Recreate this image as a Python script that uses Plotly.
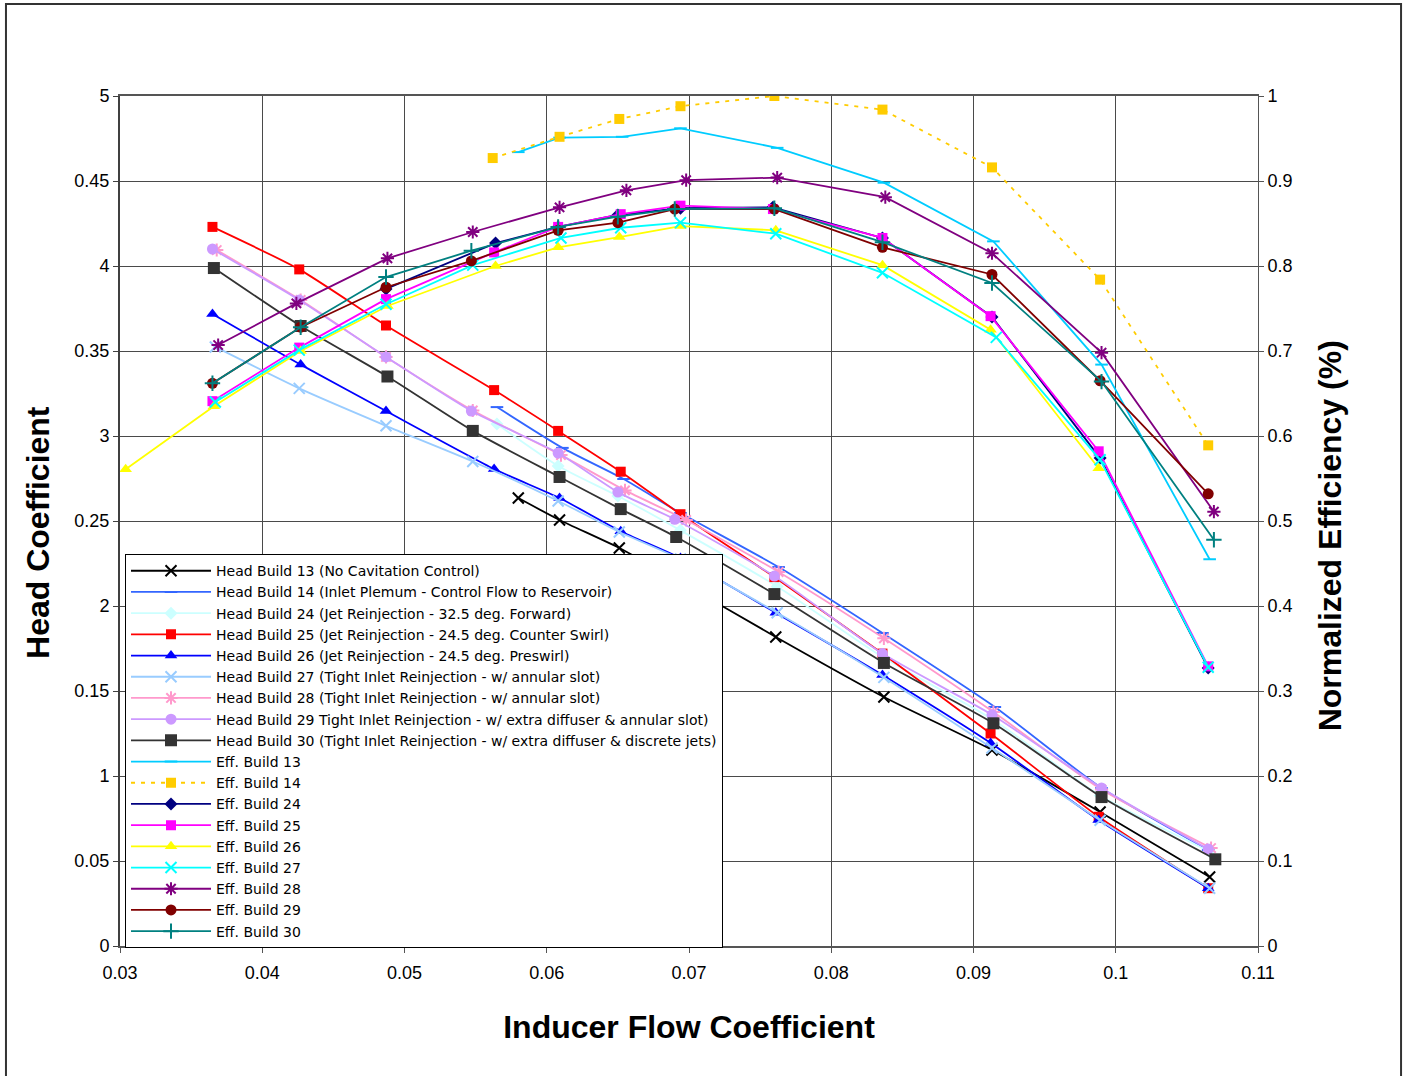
import plotly.graph_objects as go

# ---------------- data ----------------
head13_x = [0.0580, 0.0609, 0.0651, 0.0694, 0.0761, 0.0837, 0.0913, 0.0989, 0.1066]
head13_y = [0.2635, 0.2506, 0.2341, 0.2141, 0.1818, 0.1465, 0.1153, 0.0788, 0.0406]

head14_x = [0.0565, 0.0611, 0.0654, 0.0694, 0.0763, 0.0836, 0.0915, 0.0990, 0.1065]
head14_y = [0.317, 0.293, 0.2747, 0.2547, 0.2229, 0.1841, 0.1406, 0.0929, 0.0565]

head24_x = [0.0565, 0.0608, 0.0650, 0.0694, 0.0762, 0.0837, 0.0913, 0.0989, 0.1066]
head24_y = [0.307, 0.2824, 0.2647, 0.2445, 0.2115, 0.1695, 0.1335, 0.0885, 0.0555]

head25_x = [0.0365, 0.0426, 0.0487, 0.0563, 0.0608, 0.0652, 0.0694, 0.0760, 0.0836, 0.0912, 0.0988, 0.1065]
head25_y = [0.423, 0.398, 0.365, 0.327, 0.303, 0.279, 0.254, 0.217, 0.172, 0.125, 0.076, 0.034]

head26_x = [0.0365, 0.0427, 0.0487, 0.0563, 0.0609, 0.0652, 0.0694, 0.0761, 0.0836, 0.0912, 0.0988, 0.1065]
head26_y = [0.3718, 0.342, 0.3147, 0.2806, 0.2635, 0.244, 0.2282, 0.196, 0.1594, 0.1194, 0.0741, 0.034]

head27_x = [0.0367, 0.0426, 0.0487, 0.0548, 0.0608, 0.0651, 0.0694, 0.0762, 0.0837, 0.0913, 0.0989, 0.1066]
head27_y = [0.3524, 0.328, 0.306, 0.285, 0.2618, 0.2435, 0.2276, 0.196, 0.158, 0.1165, 0.074, 0.034]

head28_x = [0.0368, 0.0427, 0.0487, 0.0548, 0.0610, 0.0655, 0.0698, 0.0763, 0.0837, 0.0914, 0.0990, 0.1067]
head28_y = [0.4094, 0.380, 0.3465, 0.315, 0.2888, 0.268, 0.2506, 0.220, 0.181, 0.1376, 0.092, 0.0576]

head29_x = [0.0365, 0.0426, 0.0487, 0.0547, 0.0608, 0.0650, 0.0690, 0.0760, 0.0836, 0.0913, 0.0990, 0.1065]
head29_y = [0.410, 0.380, 0.3465, 0.3147, 0.290, 0.267, 0.251, 0.2176, 0.172, 0.136, 0.093, 0.057]

head30_x = [0.0366, 0.0427, 0.0488, 0.0548, 0.0609, 0.0652, 0.0691, 0.0760, 0.0837, 0.0914, 0.0990, 0.1070]
head30_y = [0.3988, 0.3647, 0.335, 0.303, 0.2759, 0.257, 0.2406, 0.207, 0.1665, 0.131, 0.0876, 0.051]

eff13_x = [0.0580, 0.0609, 0.0653, 0.0694, 0.0762, 0.0837, 0.0914, 0.0990, 0.1066]
eff13_y = [0.934, 0.951, 0.952, 0.962, 0.939, 0.898, 0.829, 0.684, 0.455]

eff14_x = [0.0562, 0.0609, 0.0651, 0.0694, 0.0760, 0.0836, 0.0913, 0.0989, 0.1065]
eff14_y = [0.927, 0.952, 0.973, 0.988, 1.000, 0.984, 0.916, 0.784, 0.589]

eff24_x = [0.0487, 0.0564, 0.0608, 0.0650, 0.0694, 0.0759, 0.0836, 0.0913, 0.0989, 0.1065]
eff24_y = [0.773, 0.827, 0.846, 0.860, 0.868, 0.869, 0.833, 0.740, 0.574, 0.327]

eff25_x = [0.0365, 0.0426, 0.0487, 0.0563, 0.0608, 0.0652, 0.0694, 0.0759, 0.0836, 0.0912, 0.0988, 0.1065]
eff25_y = [0.641, 0.704, 0.761, 0.816, 0.846, 0.861, 0.871, 0.867, 0.833, 0.741, 0.582, 0.329]

eff26_x = [0.0304, 0.0366, 0.0427, 0.0488, 0.0564, 0.0608, 0.0651, 0.0694, 0.0761, 0.0836, 0.0912, 0.0988]
eff26_y = [0.561, 0.635, 0.700, 0.753, 0.800, 0.822, 0.834, 0.847, 0.842, 0.801, 0.725, 0.562]

eff27_x = [0.0367, 0.0426, 0.0487, 0.0548, 0.0610, 0.0652, 0.0694, 0.0761, 0.0836, 0.0916, 0.0989, 0.1065]
eff27_y = [0.640, 0.701, 0.755, 0.801, 0.833, 0.845, 0.851, 0.838, 0.792, 0.716, 0.572, 0.328]

eff28_x = [0.0369, 0.0424, 0.0488, 0.0548, 0.0609, 0.0656, 0.0698, 0.0762, 0.0838, 0.0913, 0.0990, 0.1069]
eff28_y = [0.707, 0.756, 0.809, 0.840, 0.869, 0.889, 0.901, 0.904, 0.881, 0.815, 0.698, 0.511]

eff29_x = [0.0365, 0.0427, 0.0487, 0.0547, 0.0608, 0.0650, 0.0690, 0.0760, 0.0836, 0.0913, 0.0989, 0.1065]
eff29_y = [0.662, 0.728, 0.775, 0.806, 0.842, 0.851, 0.867, 0.867, 0.822, 0.790, 0.665, 0.532]

eff30_x = [0.0365, 0.0427, 0.0487, 0.0547, 0.0608, 0.0650, 0.0690, 0.0760, 0.0836, 0.0913, 0.0990, 0.1069]
eff30_y = [0.662, 0.728, 0.787, 0.818, 0.846, 0.858, 0.867, 0.868, 0.828, 0.780, 0.664, 0.478]

names = [
    "Head Build 13 (No Cavitation Control)",
    "Head Build 14 (Inlet Plemum - Control Flow to Reservoir)",
    "Head Build 24 (Jet Reinjection - 32.5 deg. Forward)",
    "Head Build 25 (Jet Reinjection - 24.5 deg. Counter Swirl)",
    "Head Build 26 (Jet Reinjection - 24.5 deg. Preswirl)",
    "Head Build 27 (Tight Inlet Reinjection - w/ annular slot)",
    "Head Build 28 (Tight Inlet Reinjection - w/ annular slot)",
    "Head Build 29 Tight Inlet Reinjection - w/ extra diffuser & annular slot)",
    "Head Build 30 (Tight Inlet Reinjection - w/ extra diffuser & discrete jets)",
    "Eff. Build 13", "Eff. Build 14", "Eff. Build 24", "Eff. Build 25", "Eff. Build 26",
    "Eff. Build 27", "Eff. Build 28", "Eff. Build 29", "Eff. Build 30",
]

x_ticks = [0.03, 0.04, 0.05, 0.06, 0.07, 0.08, 0.09, 0.10, 0.11]
x_ticktext = ["0.03", "0.04", "0.05", "0.06", "0.07", "0.08", "0.09", "0.1", "0.11"]
y_ticks = [0, 0.05, 0.10, 0.15, 0.20, 0.25, 0.30, 0.35, 0.40, 0.45, 0.50]
y_ticktext = ["0", "0.05", "1", "0.15", "2", "0.25", "3", "0.35", "4", "0.45", "5"]
y2_ticks = [0, 0.1, 0.2, 0.3, 0.4, 0.5, 0.6, 0.7, 0.8, 0.9, 1.0]
y2_ticktext = ["0", "0.1", "0.2", "0.3", "0.4", "0.5", "0.6", "0.7", "0.8", "0.9", "1"]

x_title = "Inducer Flow Coefficient"
y_title = "Head Coefficient"
y2_title = "Normalized Efficiency (%)"

# ---------------- styles ----------------
LINE_SYMS = {"x-thin", "asterisk", "cross-thin", "line-ew"}
series = [
    (head13_x, head13_y, "y", "#000000", "x-thin", 11, "solid"),
    (head14_x, head14_y, "y", "#3366FF", "line-ew", 9, "solid"),
    (head24_x, head24_y, "y", "#CCFFFF", "diamond", 10, "solid"),
    (head25_x, head25_y, "y", "#FF0000", "square", 10, "solid"),
    (head26_x, head26_y, "y", "#0000FF", "triangle-up", 11, "solid"),
    (head27_x, head27_y, "y", "#99CCFF", "x-thin", 11, "solid"),
    (head28_x, head28_y, "y", "#FF99CC", "asterisk", 11, "solid"),
    (head29_x, head29_y, "y", "#CC99FF", "circle", 11, "solid"),
    (head30_x, head30_y, "y", "#333333", "square", 12, "solid"),
    (eff13_x, eff13_y, "y2", "#00CCFF", "line-ew", 9, "solid"),
    (eff14_x, eff14_y, "y2", "#FFCC00", "square", 10, "4px,6px"),
    (eff24_x, eff24_y, "y2", "#000080", "diamond", 10, "solid"),
    (eff25_x, eff25_y, "y2", "#FF00FF", "square", 10, "solid"),
    (eff26_x, eff26_y, "y2", "#FFFF00", "triangle-up", 11, "solid"),
    (eff27_x, eff27_y, "y2", "#00FFFF", "x-thin", 11, "solid"),
    (eff28_x, eff28_y, "y2", "#800080", "asterisk", 11, "solid"),
    (eff29_x, eff29_y, "y2", "#800000", "circle", 11, "solid"),
    (eff30_x, eff30_y, "y2", "#008080", "cross-thin", 11, "solid"),
]

FONT = "Liberation Sans, Arial, sans-serif"
fig = go.Figure()
for i, (xs, ys, ax, col, sym, sz, dash) in enumerate(series):
    is_head = ax == "y"
    if sym in LINE_SYMS:
        marker = dict(symbol=sym, size=sz, color=col, line=dict(color=col, width=2))
    else:
        marker = dict(symbol=sym, size=sz, color=col, line=dict(width=0))
    line = dict(color=col, width=1.8, dash=dash)
    if is_head:
        line.update(shape="spline", smoothing=0.6)
    fig.add_trace(go.Scatter(
        x=xs, y=ys, yaxis=ax, name=names[i], mode="lines+markers",
        line=line, marker=marker,
    ))

fig.update_layout(
    width=1406, height=1076,
    margin=dict(l=120, r=148, t=96, b=130),
    paper_bgcolor="white", plot_bgcolor="white",
    font=dict(family=FONT, size=18, color="black"),
    showlegend=True,
    legend=dict(
        x=0.0044, y=0.461, xanchor="left", yanchor="top",
        bgcolor="white", bordercolor="black", borderwidth=1,
        font=dict(family="DejaVu Sans, Liberation Sans, sans-serif", size=14, color="black"),
        traceorder="normal", itemwidth=80,
    ),
    xaxis=dict(
        range=[0.03, 0.11], tickvals=x_ticks, ticktext=x_ticktext,
        showgrid=True, gridcolor="#4a4a4a", gridwidth=1, zeroline=False,
        showline=True, linecolor="#555555", linewidth=2, mirror=True,
        ticks="outside", ticklen=5, tickcolor="#555555", ticklabelstandoff=4,
        tickfont=dict(size=18),
        title=dict(text="<b>" + x_title + "</b>", font=dict(size=32), standoff=34),
    ),
    yaxis=dict(
        range=[0, 0.5], tickvals=y_ticks, ticktext=y_ticktext,
        showgrid=True, gridcolor="#4a4a4a", gridwidth=1, zeroline=False,
        showline=True, linecolor="#404040", linewidth=2,
        ticks="outside", ticklen=5, tickcolor="#404040",
        tickfont=dict(size=18),
    ),
    yaxis2=dict(
        range=[0, 1], tickvals=y2_ticks, ticktext=y2_ticktext,
        overlaying="y", side="right", showgrid=False, zeroline=False,
        showline=True, linecolor="#555555", linewidth=1,
        ticks="outside", ticklen=5, tickcolor="#555555",
        tickfont=dict(size=18),
    ),
)

# vertical axis titles (positioned like the reference, slightly below plot centre)
fig.add_annotation(text="<b>" + y_title + "</b>", xref="paper", yref="paper",
                   x=-0.072, y=0.486, textangle=-90, showarrow=False,
                   font=dict(size=32, family=FONT, color="black"),
                   xanchor="center", yanchor="middle")
fig.add_annotation(text="<b>" + y2_title + "</b>", xref="paper", yref="paper",
                   x=1.0633, y=0.482, textangle=-90, showarrow=False,
                   font=dict(size=32, family=FONT, color="black"),
                   xanchor="center", yanchor="middle")

# outer chart frame
fig.add_shape(type="rect", xref="paper", yref="paper",
              x0=-0.1002, x1=1.1257, y0=-0.16, y1=1.1082,
              line=dict(color="#333333", width=2), layer="below")

fig.write_html("out.html")
